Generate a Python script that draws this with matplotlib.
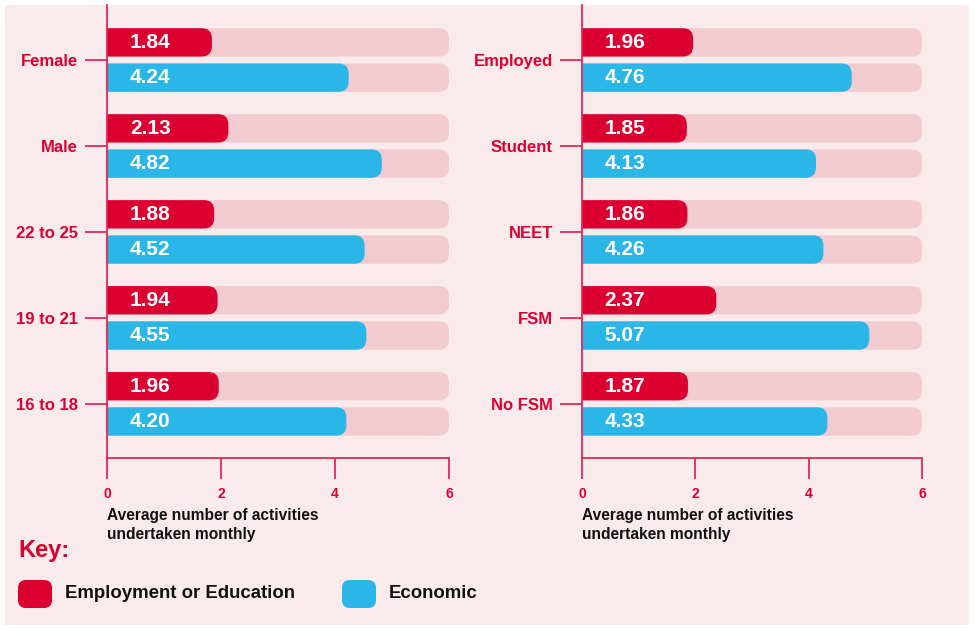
import matplotlib.pyplot as plt
from matplotlib.patches import FancyBboxPatch, Rectangle

plt.rcParams['font.family'] = ['Liberation Sans', 'DejaVu Sans']

# data
left_cats = ["Female", "Male", "22 to 25", "19 to 21", "16 to 18"]
left_edu = [1.84, 2.13, 1.88, 1.94, 1.96]
left_eco = [4.24, 4.82, 4.52, 4.55, 4.20]

right_cats = ["Employed", "Student", "NEET", "FSM", "No FSM"]
right_edu = [1.96, 1.85, 1.86, 2.37, 1.87]
right_eco = [4.76, 4.13, 4.26, 5.07, 4.33]

xticks = [0, 2, 4, 6]
xmax = 6
series_names = ["Employment or Education", "Economic"]

# colours
RED = "#DC0030"
BLUE = "#2BB6E8"
TRACK = "#F2CBD0"
BG = "#F9EAEB"
LINE = "#E3265A"

W, H = 974, 630
fig = plt.figure(figsize=(W / 100, H / 100), dpi=100, facecolor="white")
fig.patches.append(Rectangle((5 / W, 5 / H), (W - 10) / W, (H - 10) / H,
                             transform=fig.transFigure, facecolor=BG,
                             edgecolor="none", zorder=-10))

bar_h = 0.33
off = 0.205


def rbar(ax, y, w, color, asp, z):
    r = 0.18
    p = FancyBboxPatch((-0.5, y - bar_h / 2), w + 0.5, bar_h,
                       boxstyle="round,pad=0,rounding_size=%f" % r,
                       mutation_aspect=asp, facecolor=color,
                       edgecolor="none", zorder=z, clip_on=True)
    ax.add_patch(p)


def panel(x0_px, x6_px, cats, edu, eco):
    ax_w = (x6_px - x0_px) * 6.06 / 6
    ax = fig.add_axes([x0_px / W, (H - 458) / H, ax_w / W, (458 - 5) / H])
    ax.set_facecolor("none")
    ax.set_xlim(0, 6.06)
    ylo, yhi = 4.63, -0.64
    ax.set_ylim(ylo, yhi)
    # aspect for rounded corners (y data per px / x data per px)
    ypp = (ylo - yhi) / (458 - 5)
    xpp = 6.0 / (x6_px - x0_px)
    asp = ypp / xpp
    for i, c in enumerate(cats):
        rbar(ax, i - off, xmax, TRACK, asp, 1)
        rbar(ax, i + off, xmax, TRACK, asp, 1)
        rbar(ax, i - off, edu[i], RED, asp, 2)
        rbar(ax, i + off, eco[i], BLUE, asp, 2)
        ax.text(0.4, i - off, "%.2f" % edu[i], color="white", fontsize=15,
                fontweight="bold", ha="left", va="center", zorder=3)
        ax.text(0.4, i + off, "%.2f" % eco[i], color="white", fontsize=15,
                fontweight="bold", ha="left", va="center", zorder=3)
    for s in ["top", "right"]:
        ax.spines[s].set_visible(False)
    ax.spines["left"].set_color(LINE)
    ax.spines["bottom"].set_color(LINE)
    ax.spines["left"].set_linewidth(1.3)
    ax.spines["bottom"].set_linewidth(1.3)
    ax.spines["left"].set_zorder(5)
    ax.spines["bottom"].set_bounds(0, 6)
    ax.set_xticks(xticks)
    ax.set_xticklabels([str(t) for t in xticks])
    ax.tick_params(axis="x", length=15, width=1.3, color=LINE, pad=6,
                   labelcolor=RED, labelsize=10)
    for lb in ax.get_xticklabels():
        lb.set_fontweight("bold")
    ax.set_yticks(range(len(cats)))
    ax.set_yticklabels(cats)
    ax.tick_params(axis="y", length=16, width=1.3, color=LINE, pad=5,
                   labelcolor=RED, labelsize=12)
    for lb in ax.get_yticklabels():
        lb.set_fontweight("bold")
    fig.text(x0_px / W, (H - 508) / H,
             "Average number of activities\nundertaken monthly",
             ha="left", va="top", fontsize=11.2, fontweight="bold",
             color="#111111", linespacing=1.3)
    return ax


panel(107, 449, left_cats, left_edu, left_eco)
panel(582, 922, right_cats, right_edu, right_eco)

# key
fig.text(18 / W, (H - 551) / H, "Key:", color=RED, fontsize=17,
         fontweight="bold", ha="left", va="center")
for x_px, col, name in [(18, RED, series_names[0]), (342, BLUE, series_names[1])]:
    fig.patches.append(FancyBboxPatch((x_px / W, (H - 608) / H), 34 / W, 28 / H,
                                      boxstyle="round,pad=0,rounding_size=%f" % (8 / W),
                                      mutation_aspect=W / H,
                                      transform=fig.transFigure,
                                      facecolor=col, edgecolor="none"))
    fig.text((x_px + 47) / W, (H - 594) / H, name, color="#111111",
             fontsize=13.4, fontweight="bold", ha="left", va="center")

fig.savefig("out.png", dpi=100, facecolor="white")
